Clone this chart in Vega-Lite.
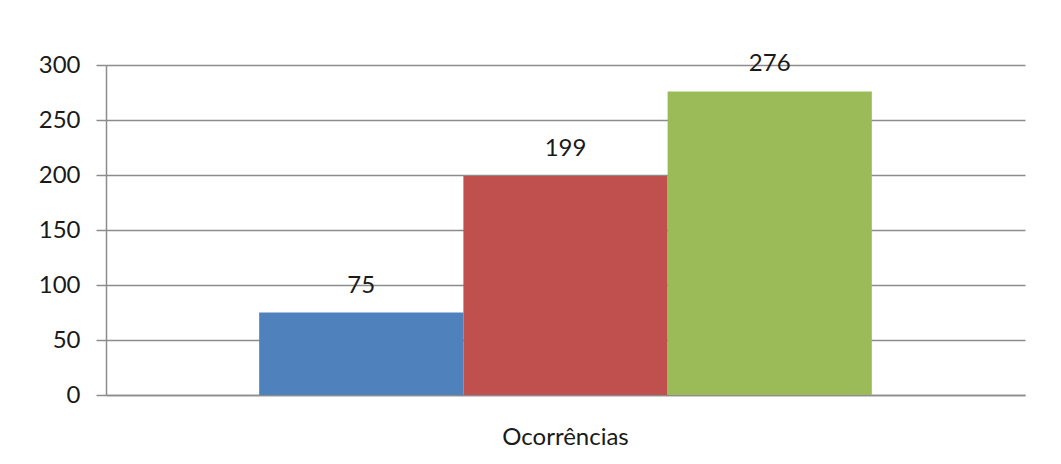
{
  "$schema": "https://vega.github.io/schema/vega-lite/v6.json",
  "width": 919,
  "height": 330,
  "autosize": {"type": "none"},
  "padding": {"left": 106, "top": 65, "right": 36, "bottom": 69},
  "background": "white",
  "data": {
    "values": [
      {"categoria": "Ocorrências", "serie": "Série 1", "valor": 75},
      {"categoria": "Ocorrências", "serie": "Série 2", "valor": 199},
      {"categoria": "Ocorrências", "serie": "Série 3", "valor": 276}
    ]
  },
  "encoding": {
    "x": {
      "field": "categoria",
      "type": "nominal",
      "scale": {"paddingInner": 0, "paddingOuter": 0.25},
      "axis": {
        "title": null,
        "labelAngle": 0,
        "ticks": false,
        "grid": false,
        "labelPadding": 30,
        "domainColor": "#8c8c8c",
        "domainWidth": 1.5
      }
    },
    "xOffset": {
      "field": "serie",
      "type": "nominal",
      "scale": {"paddingInner": 0, "paddingOuter": 0}
    },
    "y": {
      "field": "valor",
      "type": "quantitative",
      "scale": {"domain": [0, 300], "nice": false},
      "axis": {
        "title": null,
        "values": [0, 50, 100, 150, 200, 250, 300],
        "grid": true,
        "gridColor": "#8c8c8c",
        "gridWidth": 1.5,
        "tickColor": "#8c8c8c",
        "tickWidth": 1.5,
        "tickSize": 10,
        "labelPadding": 16,
        "domainColor": "#8c8c8c",
        "domainWidth": 1.5
      }
    }
  },
  "layer": [
    {
      "mark": {"type": "bar"},
      "encoding": {
        "color": {
          "field": "serie",
          "type": "nominal",
          "scale": {"range": ["#4F81BD", "#C0504D", "#9BBB59"]},
          "legend": null
        }
      }
    },
    {
      "mark": {"type": "text", "dy": -27, "fontSize": 24, "font": "Lato", "color": "#1a1a1a"},
      "encoding": {"text": {"field": "valor", "type": "quantitative"}}
    }
  ],
  "config": {
    "view": {"stroke": null},
    "axis": {
      "labelFont": "Lato",
      "labelFontSize": 24,
      "labelColor": "#1a1a1a"
    }
  }
}
